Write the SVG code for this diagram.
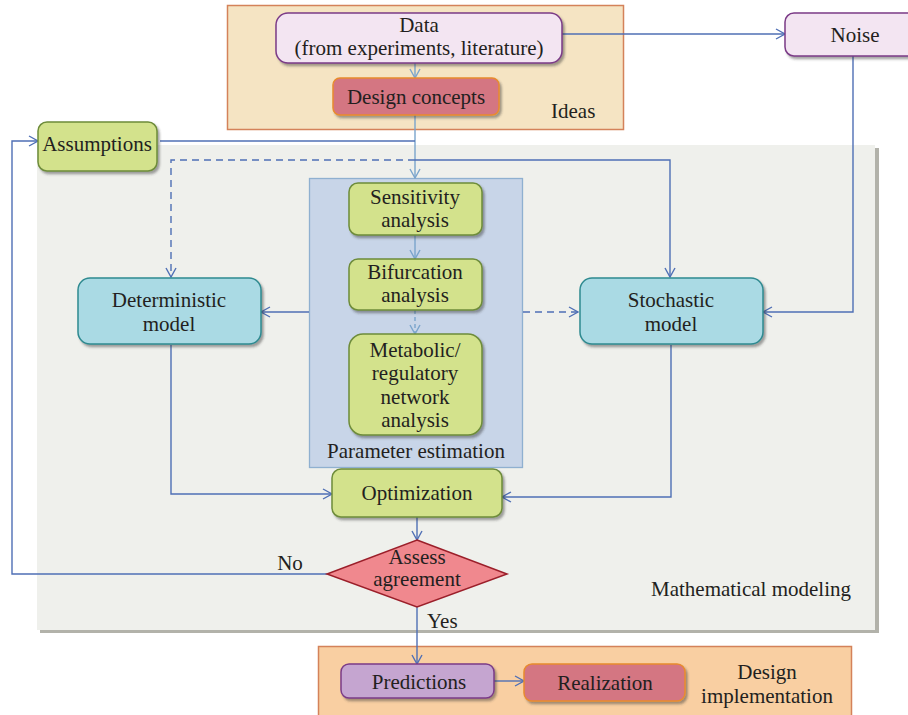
<svg xmlns="http://www.w3.org/2000/svg" width="908" height="715" viewBox="0 0 908 715">
<style>
text{font-family:"Liberation Serif","DejaVu Serif",serif;font-size:21px;fill:#231f20;text-anchor:middle}
.lbl{text-anchor:start}
.c{fill:none;stroke:#4f6fb5;stroke-width:1.4}
.cl{fill:none;stroke:#7aa4cc;stroke-width:1.4}
.dash{stroke-dasharray:7,5}
.green{fill:#d3e28c;stroke:#6e8c3a;stroke-width:1.5}
.teal{fill:#aadae4;stroke:#2f8a90;stroke-width:1.5}
.lilac{fill:#f3e5f2;stroke:#7b3b87;stroke-width:1.5}
.rose{fill:#d47682;stroke:#e88b2e;stroke-width:1.5}
.purple{fill:#c5a5d0;stroke:#7b3b87;stroke-width:1.5}
</style>
<defs>
<marker id="a" viewBox="0 0 12 12" refX="11" refY="6" markerWidth="12" markerHeight="12" markerUnits="userSpaceOnUse" orient="auto">
<path d="M2,1 L11,6 L2,11" fill="none" stroke="#4f6fb5" stroke-width="1.4"/>
</marker>
<marker id="al" viewBox="0 0 12 12" refX="11" refY="6" markerWidth="12" markerHeight="12" markerUnits="userSpaceOnUse" orient="auto">
<path d="M2,1 L11,6 L2,11" fill="none" stroke="#7aa4cc" stroke-width="1.4"/>
</marker>
<filter id="sh" x="-10%" y="-10%" width="130%" height="140%">
<feDropShadow dx="2" dy="2.5" stdDeviation="1" flood-color="#333" flood-opacity="0.45"/>
</filter>
</defs>

<g id="bg-ideas">
<rect x="227.5" y="5.5" width="396" height="124" fill="#f5e4c3" stroke="#d4825a" stroke-width="1.5"/>
<text class="lbl" x="551" y="118">Ideas</text>
</g>
<g id="bg-modeling">
<rect x="40" y="148" width="839" height="485" fill="#b2b2aa"/>
<rect x="37" y="145" width="838" height="485" fill="#eff0ec"/>
<text x="751" y="596">Mathematical modeling</text>
</g>
<g id="bg-impl">
<rect x="318.5" y="646.5" width="533" height="70" fill="#f9cfa2" stroke="#d4825a" stroke-width="1.5"/>
<text x="767" y="679">Design</text>
<text x="767" y="703">implementation</text>
</g>
<g id="param-estimation">
<rect x="309.5" y="178.5" width="213" height="289" fill="#c8d5e8" stroke="#8fb0d0" stroke-width="1.3"/>
<text x="416" y="458">Parameter estimation</text>
</g>

<g id="connectors">
<path class="cl" d="M415,63 V78" marker-end="url(#al)"/>
<path class="cl" d="M415,115 V178" marker-end="url(#al)"/>
<path class="c" d="M160,141 H415"/>
<path class="c dash" d="M415,160 H171 V277" marker-end="url(#a)"/>
<path class="c" d="M415,160 H670 V277" marker-end="url(#a)"/>
<path class="c" d="M562,34 H785" marker-end="url(#a)"/>
<path class="c" d="M853,56 V312 H763" marker-end="url(#a)"/>
<path class="cl" d="M415,235 V259" marker-end="url(#al)"/>
<path class="cl dash" d="M415,310 V334" style="stroke-dasharray:4,3" marker-end="url(#al)"/>
<path class="c" d="M309,312 H261" marker-end="url(#a)"/>
<path class="c dash" d="M523,312 H578" marker-end="url(#a)"/>
<path class="c" d="M171,345 V494 H332" marker-end="url(#a)"/>
<path class="c" d="M671,345 V497 H502" marker-end="url(#a)"/>
<path class="c" d="M417,517 V540" marker-end="url(#a)"/>
<path class="c" d="M327,574 H12 V141 H38" marker-end="url(#a)"/>
<path class="c" d="M417,607 V664" marker-end="url(#a)"/>
<path class="c" d="M494,681 H524" marker-end="url(#a)"/>
<text x="290" y="570">No</text>
<text class="lbl" x="427" y="628">Yes</text>
</g>

<g id="data">
<rect class="lilac" x="276" y="13" width="286" height="50" rx="12" filter="url(#sh)"/>
<text x="419" y="32">Data</text>
<text x="419" y="55">(from experiments, literature)</text>
</g>
<g id="design-concepts">
<rect class="rose" x="333" y="78" width="166" height="37" rx="7" filter="url(#sh)"/>
<text x="416" y="104">Design concepts</text>
</g>
<g id="noise">
<rect class="lilac" x="785" y="13" width="140" height="43" rx="9" filter="url(#sh)"/>
<text x="855" y="42">Noise</text>
</g>
<g id="assumptions">
<rect class="green" x="38" y="122" width="119" height="49" rx="9" filter="url(#sh)"/>
<text x="97" y="151">Assumptions</text>
</g>
<g id="deterministic">
<rect class="teal" x="78" y="278" width="183" height="66" rx="12" filter="url(#sh)"/>
<text x="169" y="307">Deterministic</text>
<text x="169" y="331">model</text>
</g>
<g id="stochastic">
<rect class="teal" x="580" y="278" width="183" height="66" rx="12" filter="url(#sh)"/>
<text x="671" y="307">Stochastic</text>
<text x="671" y="331">model</text>
</g>
<g id="sensitivity">
<rect class="green" x="349" y="183" width="133" height="52" rx="9" filter="url(#sh)"/>
<text x="415" y="204">Sensitivity</text>
<text x="415" y="227">analysis</text>
</g>
<g id="bifurcation">
<rect class="green" x="349" y="259" width="133" height="51" rx="9" filter="url(#sh)"/>
<text x="415" y="279">Bifurcation</text>
<text x="415" y="302">analysis</text>
</g>
<g id="metabolic">
<rect class="green" x="349" y="334" width="133" height="101" rx="14" filter="url(#sh)"/>
<text x="415" y="357">Metabolic/</text>
<text x="415" y="380">regulatory</text>
<text x="415" y="404">network</text>
<text x="415" y="427">analysis</text>
</g>
<g id="optimization">
<rect class="green" x="332" y="469" width="170" height="48" rx="9" filter="url(#sh)"/>
<text x="417" y="500">Optimization</text>
</g>
<g id="assess">
<polygon points="417,540 507,574 417,607 327,574" fill="#f0888e" stroke="#9b1f2a" stroke-width="1.5"/>
<text x="417" y="564">Assess</text>
<text x="417" y="586">agreement</text>
</g>
<g id="predictions">
<rect class="purple" x="341" y="664" width="153" height="34" rx="8" filter="url(#sh)"/>
<text x="419" y="689">Predictions</text>
</g>
<g id="realization">
<rect class="rose" x="524" y="664" width="161" height="37" rx="8" filter="url(#sh)"/>
<text x="605" y="690">Realization</text>
</g>
</svg>
